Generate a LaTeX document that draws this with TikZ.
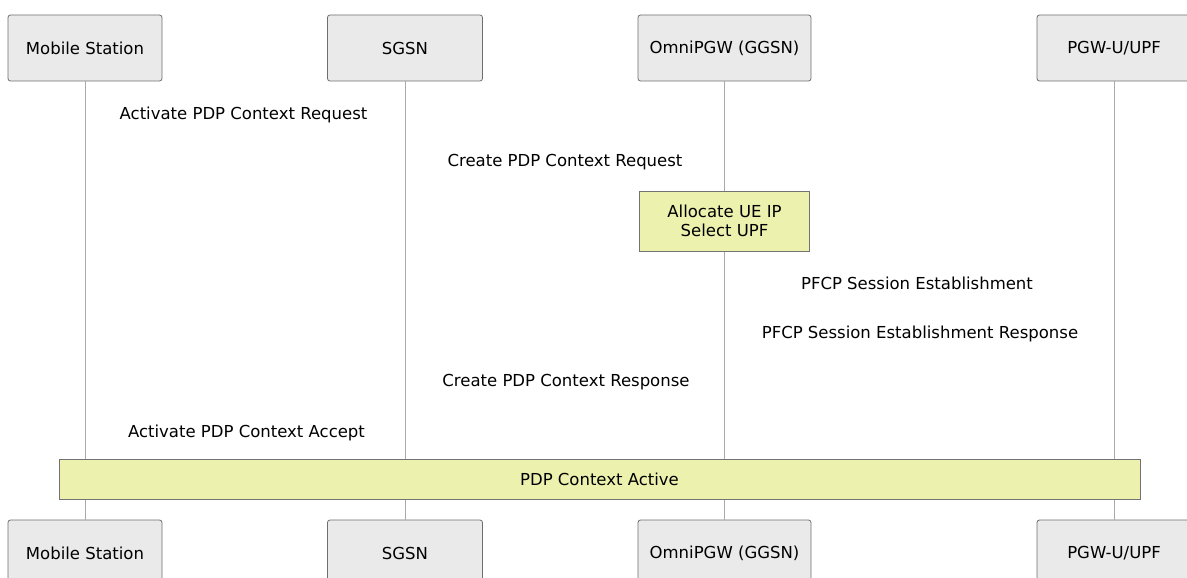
\documentclass[tikz,border=0pt]{standalone}
\usepackage{fontspec}
\setmainfont{DejaVu Sans}
\definecolor{actfill}{RGB}{234,234,234}
\definecolor{actdraw}{RGB}{110,110,110}
\definecolor{notefill}{RGB}{236,242,174}
\definecolor{notedraw}{RGB}{115,115,115}
\definecolor{lifeline}{RGB}{170,170,170}
\tikzset{
  actor/.style={draw=actdraw, fill=actfill, rounded corners=2.5pt, line width=0.8pt, minimum height=66pt, inner sep=0pt, font=\fontsize{16.5}{19}\selectfont},
  notebox/.style={draw=notedraw, fill=notefill, line width=0.8pt, inner sep=0pt, align=center, font=\fontsize{16.5}{19.5}\selectfont},
  msg/.style={inner sep=0pt, font=\fontsize{16.5}{19}\selectfont},
  life/.style={draw=lifeline, line width=1pt}
}
\begin{document}
\begin{tikzpicture}[x=1pt,y=-1pt]
\useasboundingbox (0,0) rectangle (1187,578);
% top actors
\node[actor, minimum width=154pt] (ms) at (85,48) {Mobile Station};
\node[actor, minimum width=155pt] (sg) at (405,48) {SGSN};
\node[actor, minimum width=173pt] (pg) at (724.5,48) {OmniPGW (GGSN)};
\node[actor, minimum width=154pt] (up) at (1114,48) {PGW-U/UPF};
% bottom actors
\node[actor, minimum width=154pt] (ms2) at (85,553) {Mobile Station};
\node[actor, minimum width=155pt] (sg2) at (405,553) {SGSN};
\node[actor, minimum width=173pt] (pg2) at (724.5,553) {OmniPGW (GGSN)};
\node[actor, minimum width=154pt] (up2) at (1114,553) {PGW-U/UPF};
% lifelines
\draw[life] (ms.south) -- (ms2.north);
\draw[life] (sg.south) -- (sg2.north);
\draw[life] (pg.south) -- (pg2.north);
\draw[life] (up.south) -- (up2.north);
% notes
\node[notebox, minimum width=170pt, minimum height=60pt] (alloc) at (724.5,221) {Allocate UE IP\\Select UPF};
\node[notebox, minimum width=1081pt, minimum height=40.5pt] (active) at (599.5,479.5) {PDP Context Active};
% messages
\node[msg] (m1) at (243.5,114.5) {Activate PDP Context Request};
\node[msg] (m2) at (565,162.5) {Create PDP Context Request};
\node[msg] (m3) at (917,283.5) {PFCP Session Establishment};
\node[msg] (m4) at (920,333.5) {PFCP Session Establishment Response};
\node[msg] (m5) at (566,382.5) {Create PDP Context Response};
\node[msg] (m6) at (246.5,432.5) {Activate PDP Context Accept};
\end{tikzpicture}
\end{document}
